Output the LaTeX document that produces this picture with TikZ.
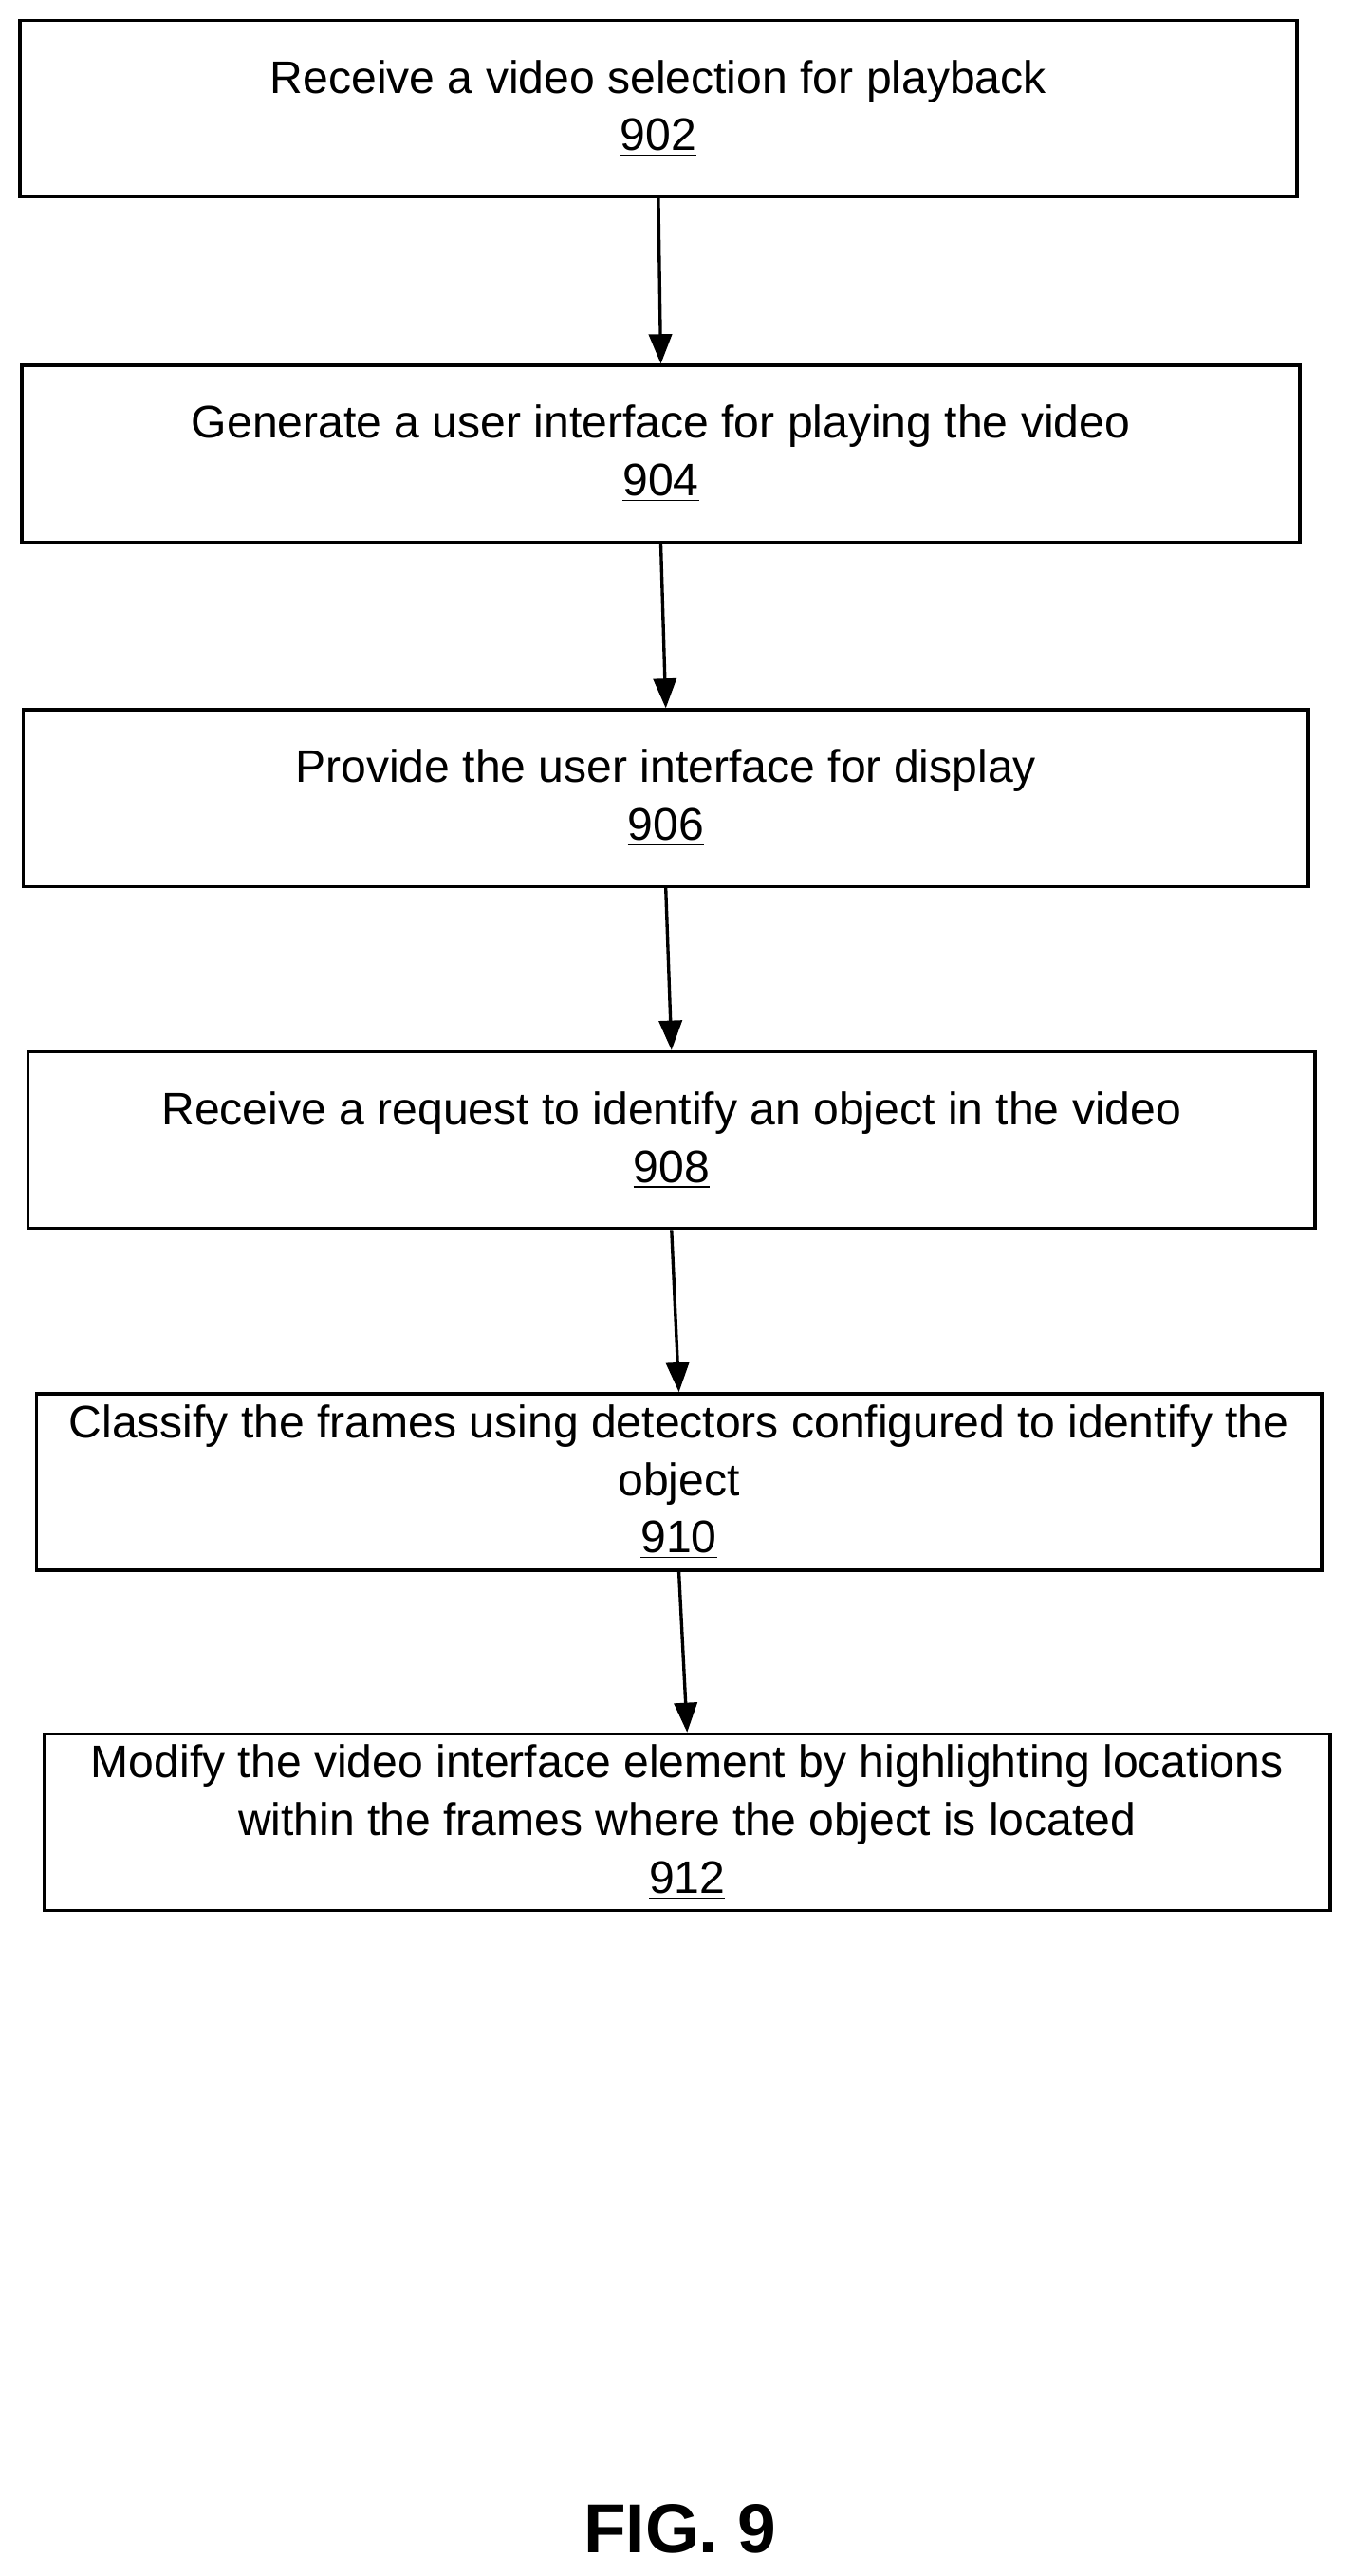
\documentclass[tikz,border=0pt]{standalone}
\usepackage{fontspec}
\setmainfont{Liberation Sans}
\usetikzlibrary{arrows.meta}
\begin{document}
\begin{tikzpicture}[x=0.02cm,y=-0.02cm]
% Define styles
\tikzset{stepbox/.style={draw, line width=1.1pt, inner sep=0pt, align=center,
  minimum height=2.15cm, font=\fontsize{15.8}{20}\selectfont},
  flow/.style={line width=1.1pt, -{Triangle[length=0.36cm,width=0.28cm]}}}
\useasboundingbox (0,0) rectangle (822,1567);
% boxes
\node[stepbox, minimum width=15.54cm] (b902) at (400.5,66)
  {Receive a video selection for playback\\\underline{902}};
\node[stepbox, minimum width=15.55cm] (b904) at (402,276)
  {Generate a user interface for playing the video\\\underline{904}};
\node[stepbox, minimum width=15.64cm] (b906) at (405,485.5)
  {Provide the user interface for display\\\underline{906}};
\node[stepbox, minimum width=15.66cm] (b908) at (408.5,693.5)
  {Receive a request to identify an object in the video\\\underline{908}};
\node[stepbox, minimum width=15.64cm] (b910) at (413,901.5)
  {Classify the frames using detectors configured to identify the\\object\\\underline{910}};
\node[stepbox, minimum width=15.65cm] (b912) at (418,1108.5)
  {Modify the video interface element by highlighting locations\\within the frames where the object is located\\\underline{912}};
% arrows
\draw[flow] (b902.south) -- (b904.north);
\draw[flow] (b904.south) -- (b906.north);
\draw[flow] (b906.south) -- (b908.north);
\draw[flow] (b908.south) -- (b910.north);
\draw[flow] (b910.south) -- (b912.north);
\node[font=\fontsize{24}{28}\selectfont\bfseries] (fig) at (413.6,1538.5) {FIG. 9};
\end{tikzpicture}
\end{document}
